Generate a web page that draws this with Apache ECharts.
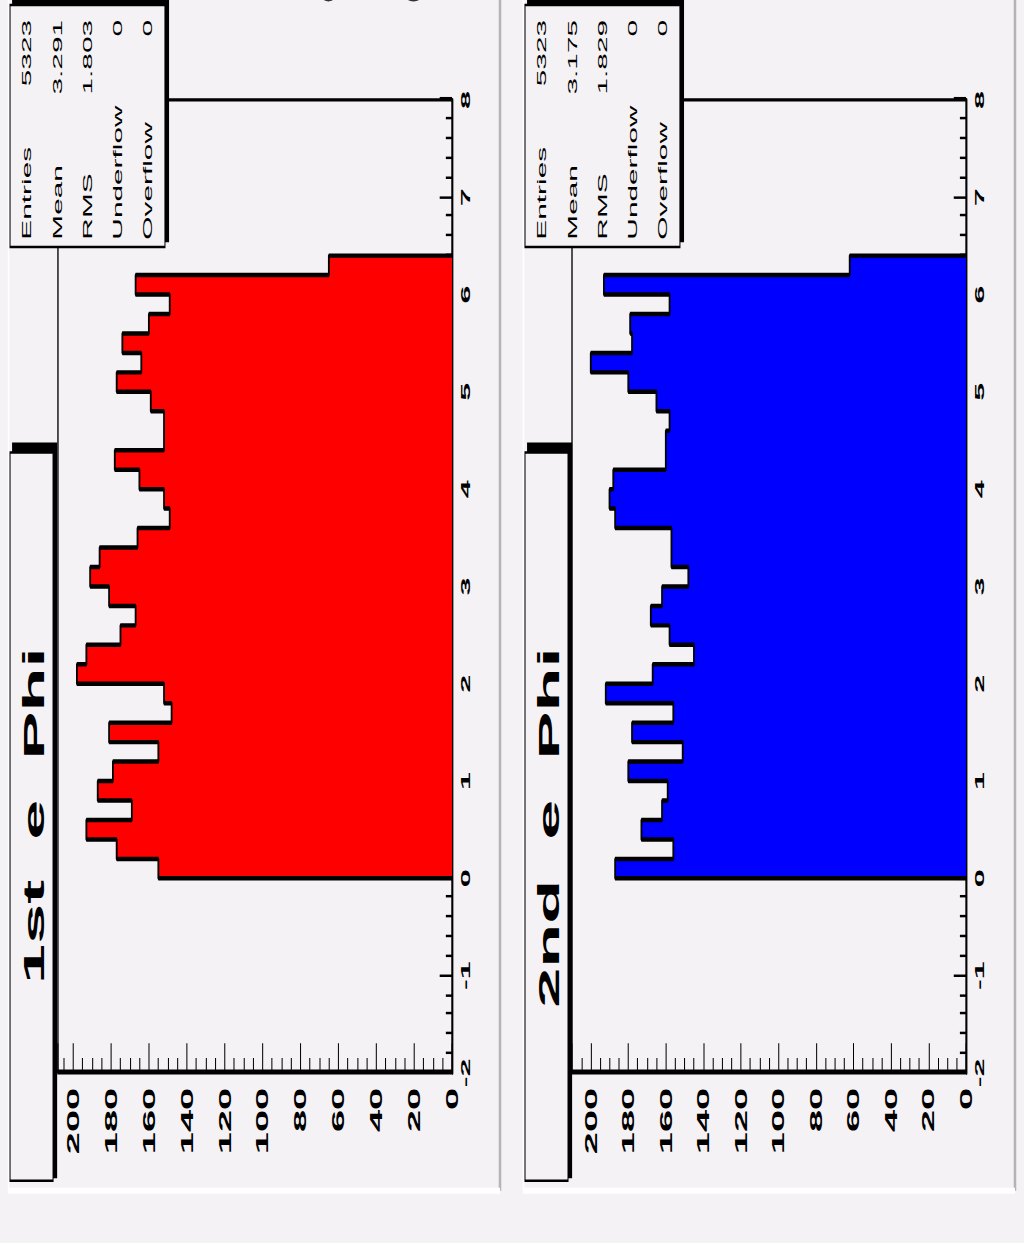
<!DOCTYPE html>
<html>
<head>
<meta charset="utf-8">
<script src="https://cdn.jsdelivr.net/npm/echarts@6/dist/echarts.min.js"></script>
<style>
html,body{margin:0;padding:0;width:1024px;height:1243px;overflow:hidden;background:#f5f2f5;}
#wrap{position:absolute;left:0;top:0;width:500px;height:1000px;transform-origin:0 0;
  transform:translate(0px,1243px) rotate(-90deg) scale(2.486,1.024);}
</style>
</head>
<body>
<div id="wrap"></div>
<script>
// ---- data ----
const binLow = [0.0,0.2,0.4,0.6,0.8,1.0,1.2,1.4,1.6,1.8,2.0,2.2,2.4,2.6,2.8,3.0,
                3.2,3.4,3.6,3.8,4.0,4.2,4.4,4.6,4.8,5.0,5.2,5.4,5.6,5.8,6.0,6.2];
const binWidth = 0.2;
const counts1 = [155,177,193,169,187,179,155,181,148,152,198,193,175,167,181,191,
                 186,166,149,152,165,178,152,152,159,177,164,174,160,149,167,65];
const counts2 = [187,156,173,162,159,180,151,178,156,192,167,145,158,168,162,148,
                 157,157,187,190,188,160,160,158,165,180,200,178,179,158,193,62];
const titles = ['1st\u00a0 e\u00a0 Phi','2nd\u00a0 e\u00a0 Phi'];
const statLabels = ['Entries','Mean','RMS','Underflow','Overflow'];
const stats1 = ['5323','3.291','1.803','0','0'];
const stats2 = ['5323','3.175','1.829','0','0'];
const phiTicks = [-2,-1,0,1,2,3,4,5,6,7,8];
const countTicks = [0,20,40,60,80,100,120,140,160,180,200];
const countMax = [208,210];

// ---- build ----
const BG = '#f5f2f5';
const FONT = '"Liberation Sans", Arial, sans-serif';
function stepPoints(vals){
  const pts = [[binLow[0],0]];
  vals.forEach((v,i)=>{ pts.push([binLow[i],v]); pts.push([binLow[i]+binWidth,v]); });
  pts.push([binLow[binLow.length-1]+binWidth,0]);
  return pts;
}
const gridTops = [56.6, 558.6];
const grids = gridTops.map(t=>({left:68.4, top:t, width:391.4, height:384.8, show:true,
  borderColor:'#000', borderWidth:1.3, backgroundColor:'transparent'}));
const xAxes = [0,1].map(i=>({type:'value', gridIndex:i, min:-2, max:8, interval:1,
  axisLine:{show:true,onZero:false,lineStyle:{color:'#000',width:1.5}},
  axisTick:{show:true,inside:true,length:12,lineStyle:{color:'#000',width:1}},
  minorTick:{show:true,splitNumber:5,length:6,lineStyle:{color:'#000',width:1}},
  splitLine:{show:false},
  axisLabel:{show:true,margin:7,fontSize:13,fontWeight:'bold',fontFamily:FONT,color:'#000',
    formatter:v=>phiTicks.indexOf(v)>=0?String(v):''}}));
const yAxes = [0,1].map(i=>({type:'value', gridIndex:i, min:0, max:countMax[i], interval:20,
  axisLine:{show:true,onZero:false,lineStyle:{color:'#000',width:1.5}},
  axisTick:{show:true,inside:true,length:12,lineStyle:{color:'#000',width:1}},
  minorTick:{show:true,splitNumber:4,length:6,lineStyle:{color:'#000',width:1}},
  splitLine:{show:false},
  axisLabel:{show:true,margin:6,fontSize:16,fontWeight:'bold',fontFamily:FONT,color:'#000',
    formatter:v=>countTicks.indexOf(v)>=0?String(v):''}}));
const colors = ['#ff0000','#0000ff'];
const series = [counts1,counts2].map((c,i)=>({type:'line', xAxisIndex:i, yAxisIndex:i,
  data:stepPoints(c), showSymbol:false, symbol:'none', animation:false,
  lineStyle:{color:'#000',width:1.8}, areaStyle:{color:colors[i],opacity:1}, z:3}));

// decorations (pads, title boxes, stats boxes)
const graphic = [];
const padY = [[7.8,488.3],[510.7,991.2]];
padY.forEach((p,i)=>{
  graphic.push({type:'rect',z:-10,shape:{x:21,y:p[0],width:600,height:p[1]-p[0]},style:{fill:BG}});
  graphic.push({type:'line',z:-9,shape:{x1:21,y1:p[1],x2:600,y2:p[1]},style:{stroke:'#b4b4b4',lineWidth:2.5}});
  graphic.push({type:'line',z:-9,shape:{x1:21,y1:p[0],x2:21,y2:p[1]},style:{stroke:'#ffffff',lineWidth:2.4}});
  graphic.push({type:'line',z:-9,shape:{x1:21,y1:p[0]+0.5,x2:600,y2:p[0]+0.5},style:{stroke:'#ffffff',lineWidth:1.5}});
  const y0 = p[0]+2;
  // title box with shadow
  graphic.push({type:'rect',z:50,shape:{x:26,y:y0+2,width:296,height:44},style:{fill:'#000'}});
  graphic.push({type:'rect',z:51,shape:{x:25,y:y0,width:293,height:42},style:{fill:BG,stroke:'#000',lineWidth:1}});
  graphic.push({type:'text',z:52,x:239.6,y:y0+23,style:{text:titles[i],font:'bold 29px '+FONT,fill:'#000',
    textAlign:'right',align:'right',textVerticalAlign:'middle',verticalAlign:'middle'}});
  // stats box with shadow
  const sx0 = 400.6, sw = 97.4, sh = 151.3;
  graphic.push({type:'rect',z:50,shape:{x:sx0+2,y:y0+2,width:sw+3,height:sh+2},style:{fill:'#000'}});
  graphic.push({type:'rect',z:51,shape:{x:sx0,y:y0,width:sw,height:sh},style:{fill:BG,stroke:'#000',lineWidth:1}});
  const st = i===0?stats1:stats2;
  statLabels.forEach((lab,k)=>{
    const yy = y0 + 16.6 + k*29.5;
    graphic.push({type:'text',z:52,x:sx0+3,y:yy,style:{text:lab,font:'12px '+FONT,fill:'#000',
      textAlign:'left',align:'left',textVerticalAlign:'middle',verticalAlign:'middle'}});
    graphic.push({type:'text',z:52,x:sx0+sw-6,y:yy,style:{text:st[k],font:'12px '+FONT,fill:'#000',
      textAlign:'right',align:'right',textVerticalAlign:'middle',verticalAlign:'middle'}});
  });
});
// partly visible large text at the right edge (beyond the photographed area)
graphic.push({type:'text',z:5,x:497.4,y:317,style:{text:'e',font:'48px '+FONT,fill:'#333',
  textAlign:'left',align:'left',textVerticalAlign:'middle',verticalAlign:'middle'}});
graphic.push({type:'text',z:5,x:497.4,y:400,style:{text:'o',font:'48px '+FONT,fill:'#333',
  textAlign:'left',align:'left',textVerticalAlign:'middle',verticalAlign:'middle'}});

const chart = echarts.init(document.getElementById('wrap'), null, {renderer:'svg', width:500, height:1000});
chart.setOption({animation:false, backgroundColor:BG, grid:grids, xAxis:xAxes, yAxis:yAxes,
  series:series, graphic:graphic});
</script>
</body>
</html>
